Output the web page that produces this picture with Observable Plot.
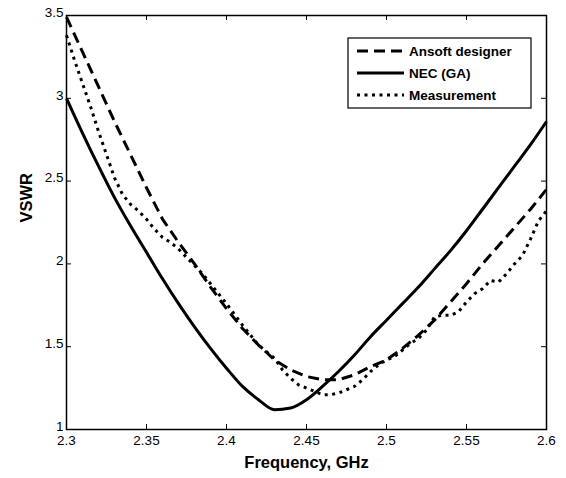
<!DOCTYPE html>
<html>
<head>
<meta charset="utf-8">
<script src="https://cdn.jsdelivr.net/npm/d3@7"></script>
<script src="https://cdn.jsdelivr.net/npm/@observablehq/plot@0.6"></script>
<style>
  html, body { margin: 0; padding: 0; background: #fff; }
  #chart { position: relative; width: 566px; height: 478px; }
</style>
</head>
<body>
<div id="chart"></div>
<script>
// ---- data ----
const seriesNames = ["Ansoft designer", "NEC (GA)", "Measurement"];

const freqAnsoft = [2.30,2.31,2.32,2.33,2.34,2.35,2.36,2.37,2.38,2.39,2.40,2.41,2.42,2.43,2.44,2.45,2.46,2.47,2.48,2.49,2.50,2.51,2.52,2.53,2.54,2.55,2.56,2.57,2.58,2.59,2.60];
const vswrAnsoft = [3.49,3.28,3.07,2.86,2.66,2.46,2.27,2.13,2.00,1.86,1.73,1.61,1.51,1.42,1.36,1.32,1.30,1.30,1.33,1.38,1.42,1.49,1.57,1.66,1.77,1.88,2.00,2.11,2.22,2.33,2.45];

const freqNEC = [2.30,2.31,2.32,2.33,2.34,2.35,2.36,2.37,2.38,2.39,2.40,2.41,2.42,2.43,2.44,2.45,2.46,2.47,2.48,2.49,2.50,2.51,2.52,2.53,2.54,2.55,2.56,2.57,2.58,2.59,2.60];
const vswrNEC = [3.00,2.79,2.59,2.40,2.23,2.07,1.91,1.76,1.62,1.49,1.37,1.26,1.18,1.12,1.13,1.18,1.26,1.35,1.45,1.56,1.66,1.76,1.86,1.97,2.08,2.20,2.33,2.46,2.59,2.72,2.86];

const freqMeas = [2.300,2.305,2.310,2.315,2.320,2.325,2.330,2.335,2.340,2.345,2.350,2.355,2.360,2.365,2.370,2.375,2.380,2.385,2.390,2.400,2.410,2.420,2.430,2.435,2.440,2.445,2.450,2.455,2.460,2.465,2.470,2.475,2.480,2.485,2.490,2.495,2.500,2.505,2.510,2.515,2.520,2.525,2.530,2.535,2.540,2.545,2.550,2.555,2.560,2.565,2.570,2.575,2.580,2.585,2.590,2.595,2.600];
const vswrMeas = [3.38,3.23,3.09,2.95,2.80,2.66,2.52,2.42,2.36,2.32,2.27,2.21,2.16,2.13,2.09,2.04,1.99,1.94,1.88,1.76,1.63,1.51,1.43,1.36,1.31,1.27,1.25,1.23,1.21,1.21,1.22,1.24,1.26,1.30,1.35,1.39,1.42,1.44,1.48,1.52,1.55,1.60,1.68,1.69,1.69,1.71,1.77,1.82,1.85,1.90,1.89,1.94,2.00,2.05,2.15,2.26,2.32];

const xTicks = [2.3, 2.35, 2.4, 2.45, 2.5, 2.55, 2.6];
const yTicks = [1, 1.5, 2, 2.5, 3, 3.5];
const xTickLabels = ["2.3", "2.35", "2.4", "2.45", "2.5", "2.55", "2.6"];
const yTickLabels = ["1", "1.5", "2", "2.5", "3", "3.5"];

// ---- build tables ----
const toRows = (fs, vs) => fs.map((f, i) => ({f, v: vs[i]}));
const ansoft = toRows(freqAnsoft, vswrAnsoft);
const nec = toRows(freqNEC, vswrNEC);
const meas = toRows(freqMeas, vswrMeas);

const W = 566, H = 478;
const M = {top: 15, right: 20, bottom: 49, left: 66};
const innerW = W - M.left - M.right;
const innerH = H - M.top - M.bottom;
const tickLen = 5;
const lw = 3;
const styles = {
  "Ansoft designer": {strokeDasharray: "11,6"},
  "NEC (GA)": {strokeDasharray: null},
  "Measurement": {strokeDasharray: "3,4.5"}
};

const chart = Plot.plot({
  width: W, height: H,
  marginTop: M.top, marginRight: M.right, marginBottom: M.bottom, marginLeft: M.left,
  style: {fontFamily: "'Liberation Sans', Arial, sans-serif", fontSize: "13.5px", color: "#000", background: "#fff"},
  x: {domain: [2.3, 2.6]},
  y: {domain: [1, 3.5]},
  marks: [
    // inward ticks on all four sides
    Plot.tickX(xTicks, {x: d => d, insetTop: innerH - tickLen, stroke: "#000", strokeWidth: 1}),
    Plot.tickX(xTicks, {x: d => d, insetBottom: innerH - tickLen, stroke: "#000", strokeWidth: 1}),
    Plot.tickY(yTicks, {y: d => d, insetRight: innerW - tickLen, stroke: "#000", strokeWidth: 1}),
    Plot.tickY(yTicks, {y: d => d, insetLeft: innerW - tickLen, stroke: "#000", strokeWidth: 1}),
    Plot.axisX({ticks: xTicks, tickSize: 0, tickPadding: 6, tickFormat: (d, i) => xTickLabels[i], label: null}),
    Plot.axisY({ticks: yTicks, tickSize: 0, tickPadding: 3, dy: -3, tickFormat: (d, i) => yTickLabels[i], label: null}),
    Plot.line(ansoft, {x: "f", y: "v", stroke: "#000", strokeWidth: lw, strokeLinecap: "butt", strokeLinejoin: "round", strokeDasharray: styles["Ansoft designer"].strokeDasharray}),
    Plot.line(nec, {x: "f", y: "v", stroke: "#000", strokeWidth: lw, strokeLinecap: "butt", strokeLinejoin: "round", curve: "monotone-x"}),
    Plot.line(meas, {x: "f", y: "v", stroke: "#000", strokeWidth: lw, strokeLinecap: "butt", strokeLinejoin: "round", strokeDasharray: styles["Measurement"].strokeDasharray}),
    Plot.frame({stroke: "#000", strokeWidth: 1.5}),
    Plot.text(["Frequency, GHz"], {frameAnchor: "bottom", dy: 38, fontSize: 16.5, fontWeight: "bold", fill: "#000"}),
    Plot.text(["VSWR"], {frameAnchor: "left", dx: -40, rotate: -90, fontSize: 16.5, fontWeight: "bold", fill: "#000"})
  ]
});

// ---- legend (box inside the plot, top-right) ----
const svg = d3.select(chart);
const lg = svg.append("g").attr("class", "legend").attr("text-anchor", "start");
const box = {x: 348, y: 38, w: 183, h: 70};
lg.append("rect").attr("x", box.x).attr("y", box.y).attr("width", box.w).attr("height", box.h)
  .attr("fill", "#fff").attr("stroke", "#000").attr("stroke-width", 1.2);
seriesNames.forEach((name, i) => {
  const cy = 51 + i * 22;
  lg.append("line").attr("x1", 357).attr("x2", 404).attr("y1", cy).attr("y2", cy)
    .attr("stroke", "#000").attr("stroke-width", lw).attr("stroke-linecap", "butt")
    .attr("stroke-dasharray", styles[name].strokeDasharray);
  lg.append("text").attr("x", 409).attr("y", cy).attr("dy", "0.35em")
    .attr("text-anchor", "start")
    .attr("font-size", 13.5).attr("font-weight", "bold").attr("fill", "#000")
    .text(name);
});

document.getElementById("chart").appendChild(chart);
</script>
</body>
</html>
